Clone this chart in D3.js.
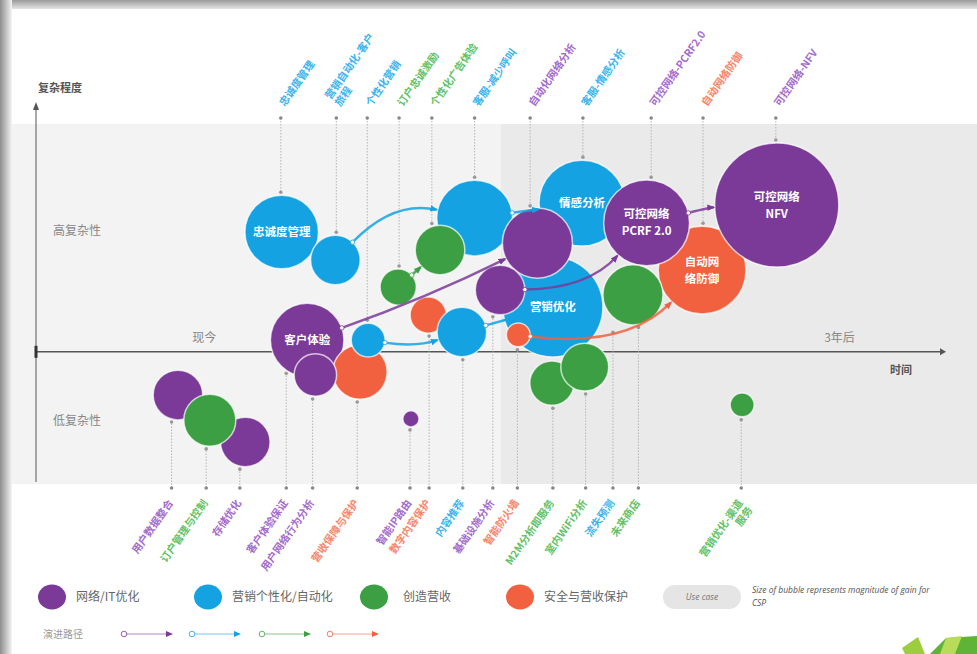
<!DOCTYPE html>
<html>
<head>
<meta charset="utf-8">
<script src="https://cdn.jsdelivr.net/npm/d3@7"></script>
<style>
body { margin: 0; background: #fff; font-family: "Noto Sans CJK SC", "Noto Sans", sans-serif; }
</style>
</head>
<body>
<svg id="chart" width="977" height="654"></svg>
<script>
// categories and their colours
const categories = ["网络/IT优化", "营销个性化/自动化", "创造营收", "安全与营收保护"];
const catColors = ["#7b3a98", "#14a2e3", "#3c9f43", "#f1613f"];
const labelColors = ["#a46ccb", "#3cb4ec", "#63c267", "#f7866a"];

// bubbles, in drawing order:
// [inner text, category, time, complexity, gain, use case label, label side, label time]
const bubbles = [
	["忠诚度管理", 1, 27.0, 3.68, 33, "忠诚度管理", "top", 26.9],
	["", 1, 32.9, 2.82, 15, "营销自动化-客户|旅程", "top", 33.0],
	["", 1, 48.2, 4.11, 35, "客服-减少呼叫", "top", 48.2],
	["情感分析", 1, 60.0, 4.57, 45, "客服-情感分析", "top", 60.1],
	["营销优化", 1, 56.8, 1.38, 61, "流失预测", "bottom", 63.4],
	["", 2, 44.4, 3.13, 15, "个性化广告体验", "top", 43.5],
	["", 2, 39.8, 1.99, 8, "订户忠诚激励", "top", 39.9],
	["", 0, 55.1, 3.34, 30, "自动化网络分析", "top", 54.3],
	["", 0, 51.0, 1.90, 15, "基础设施分析", "bottom", 50.2],
	["", 3, 43.1, 1.13, 8, "数字内容保护", "bottom", 43.2],
	["", 1, 46.8, 0.61, 15, "内容推荐", "bottom", 46.9],
	["客户体验", 0, 29.8, 0.36, 33, "客户体验保证", "bottom", 27.5],
	["", 3, 35.6, -0.62, 18, "营收保障与保护", "bottom", 35.3],
	["", 0, 30.7, -0.71, 11, "用户网络行为分析", "bottom", 30.4],
	["", 1, 36.5, 0.36, 7, "个性化营销", "top", 36.4],
	["", 3, 53.0, 0.52, 3.5, "智能防火墙", "bottom", 52.9],
	["", 2, 56.7, -0.96, 12, "M2M分析即服务", "bottom", 56.8],
	["", 2, 60.3, -0.47, 14, "室内WiFi分析", "bottom", 60.4],
	["自动网|络防御", 3, 73.2, 2.51, 47, "自动网络防御", "top", 73.3],
	["可控网络|PCRF 2.0", 0, 67.1, 3.96, 45, "可控网络-PCRF2.0", "top", 67.6],
	["可控网络|NFV", 0, 81.4, 4.51, 94, "可控网络-NFV", "top", 81.3],
	["", 2, 65.6, 1.75, 22, "未来商店", "bottom", 66.2],
	["", 2, 77.6, -1.63, 3.5, "营销优化-渠道|服务", "bottom", 77.5],
	["", 0, 15.6, -1.33, 15, "用户数据整合", "bottom", 14.9],
	["", 0, 23.0, -2.77, 15, "存储优化", "bottom", 22.4],
	["", 2, 19.1, -2.10, 16.5, "订户管理与控制", "bottom", 18.7],
	["", 0, 41.2, -2.06, 1.6, "智能IP路由", "bottom", 41.1]
];

// evolution paths: [from bubble, to bubble, category, bend]
const paths = [
	[1, 2, 1, -0.28],
	[2, 3, 1, 0],
	[6, 5, 2, 0],
	[14, 10, 1, 0.12],
	[10, 4, 1, 0],
	[11, 7, 0, 0.03],
	[8, 19, 0, 0.22],
	[19, 20, 0, -0.05],
	[15, 18, 3, 0.25]
];

const timeLabels = [["现今", 18.5], ["3年后", 88.3]];
const levelLabels = [["高复杂性", 3.74], ["低复杂性", -2.1]];

const svg = d3.select("#chart");
const x = d3.scaleLinear().domain([0, 100]).range([36, 946]);
const y = d3.scaleLinear().domain([-4, 7]).range([482, 124]);
const r = d3.scaleSqrt().domain([0, 100]).range([0, 64]);

const defs = svg.append("defs");
const gTop = defs.append("linearGradient").attr("id", "shTop").attr("x1", 0).attr("x2", 0).attr("y1", 0).attr("y2", 1);
gTop.append("stop").attr("offset", 0).attr("stop-color", "#9a9a9a");
gTop.append("stop").attr("offset", 1).attr("stop-color", "#e4e4e4");
const gLeft = defs.append("linearGradient").attr("id", "shLeft");
gLeft.append("stop").attr("offset", 0).attr("stop-color", "#8e8e8e");
gLeft.append("stop").attr("offset", 1).attr("stop-color", "#f4f4f4");

catColors.forEach((c, i) => {
	defs.append("marker")
		.attr("id", "arr" + i)
		.attr("viewBox", "0 -5 10 10")
		.attr("refX", 8).attr("refY", 0)
		.attr("markerWidth", 8).attr("markerHeight", 8)
		.attr("markerUnits", "userSpaceOnUse")
		.attr("orient", "auto")
		.append("path").attr("d", "M0,-4L10,0L0,4Z").attr("fill", c);
});

// page frame and background bands
svg.append("rect").attr("x", 12).attr("y", y(7)).attr("width", x(51.1) - 12).attr("height", y(-4) - y(7) + 2).attr("fill", "#f3f3f3");
svg.append("rect").attr("x", x(51.1)).attr("y", y(7)).attr("width", 977 - x(51.1)).attr("height", y(-4) - y(7) + 2).attr("fill", "#eaeaea");
svg.append("rect").attr("x", 0).attr("y", 0).attr("width", 977).attr("height", 9).attr("fill", "url(#shTop)");
svg.append("rect").attr("x", 0).attr("y", 0).attr("width", 12).attr("height", 654).attr("fill", "url(#shLeft)");

// axes
const axis = svg.append("g").attr("stroke", "#555");
axis.append("line").attr("x1", x(0)).attr("x2", x(0)).attr("y1", y(-4)).attr("y2", 108).attr("stroke-width", 1);
axis.append("path").attr("d", `M${x(0) - 3},110L${x(0)},102L${x(0) + 3},110Z`).attr("fill", "#555").attr("stroke", "none");
axis.append("line").attr("x1", x(0)).attr("x2", x(100) - 4).attr("y1", y(0)).attr("y2", y(0)).attr("stroke-width", 1.5);
axis.append("path").attr("d", `M${x(100) - 6},${y(0) - 3.5}L${x(100)},${y(0)}L${x(100) - 6},${y(0) + 3.5}Z`).attr("fill", "#555").attr("stroke", "none");
axis.append("line").attr("x1", x(0)).attr("x2", x(0)).attr("y1", y(0) - 6).attr("y2", y(0) + 6).attr("stroke-width", 3).attr("stroke", "#333");

svg.append("text").attr("x", 38).attr("y", 92).text("复杂程度")
	.attr("font-size", 11).attr("font-weight", "bold").attr("fill", "#555");
svg.append("text").attr("x", 890).attr("y", y(0) + 22).text("时间")
	.attr("font-size", 11).attr("font-weight", "bold").attr("fill", "#555");
svg.selectAll(".tl").data(timeLabels).join("text")
	.attr("x", d => x(d[1])).attr("y", y(0) - 10).attr("text-anchor", "middle")
	.attr("font-size", 12).attr("fill", "#888").text(d => d[0]);
svg.selectAll(".ll").data(levelLabels).join("text")
	.attr("x", 53).attr("y", d => y(d[1]) + 5)
	.attr("font-size", 12).attr("fill", "#888").text(d => d[0]);

// stems from each bubble to its use case label
const topY = 118, botY = 488;
function edgeY(d) {
	const cx = x(d[2]), cy = y(d[3]), rr = r(d[4]);
	const dx = x(d[7]) - cx;
	const dy = Math.sqrt(Math.max(rr * rr - dx * dx, (rr * 0.45) ** 2));
	return d[6] === "top" ? cy - dy - 3 : cy + dy + 3;
}
const stems = svg.append("g");
stems.selectAll("line").data(bubbles).join("line")
	.attr("x1", d => x(d[7])).attr("x2", d => x(d[7]))
	.attr("y1", d => d[6] === "top" ? topY : botY)
	.attr("y2", d => edgeY(d))
	.attr("stroke", "#b5b5b5").attr("stroke-width", 1).attr("stroke-dasharray", "1.5,1.5");
stems.selectAll(".d1").data(bubbles).join("circle")
	.attr("cx", d => x(d[7])).attr("cy", d => d[6] === "top" ? topY : botY)
	.attr("r", 1.8).attr("fill", "#888");
stems.selectAll(".d2").data(bubbles).join("circle")
	.attr("cx", d => x(d[7])).attr("cy", d => edgeY(d))
	.attr("r", 1.8).attr("fill", "#999");

// use case labels, rotated
const labels = svg.append("g").attr("font-size", 10.5).attr("font-weight", "bold");
bubbles.forEach(d => {
	const lines = d[5].split("|");
	const top = d[6] === "top";
	const g = labels.append("g")
		.attr("transform", top ? `translate(${x(d[7]) + 4},107) rotate(-55)` : `translate(${x(d[7]) + 2},503) rotate(-55)`);
	lines.forEach((t, i) => {
		g.append("text")
			.attr("text-anchor", top ? "start" : "end")
			.attr("dy", top ? ((i - (lines.length - 1)) * 1.15) + "em" : (i * 1.15) + "em")
			.attr("fill", labelColors[d[1]])
			.text(t);
	});
});

// bubbles
const nodes = svg.append("g");
nodes.selectAll("circle").data(bubbles).join("circle")
	.attr("cx", d => x(d[2])).attr("cy", d => y(d[3])).attr("r", d => r(d[4]))
	.attr("fill", d => catColors[d[1]])
	.attr("stroke", "#ffffff").attr("stroke-opacity", 0.7).attr("stroke-width", 1.5);

// evolution paths
const links = svg.append("g").attr("fill", "none");
paths.forEach(p => {
	const a = bubbles[p[0]], b = bubbles[p[1]];
	const ax = x(a[2]), ay = y(a[3]), bx = x(b[2]), by = y(b[3]);
	const dx = bx - ax, dy = by - ay, len = Math.hypot(dx, dy);
	const cx = (ax + bx) / 2 - dy / len * p[3] * len, cy = (ay + by) / 2 + dx / len * p[3] * len;
	const u1 = Math.hypot(cx - ax, cy - ay), u2 = Math.hypot(cx - bx, cy - by);
	const sx = ax + (cx - ax) / u1 * r(a[4]), sy = ay + (cy - ay) / u1 * r(a[4]);
	const ex = bx + (cx - bx) / u2 * (r(b[4]) + 1), ey = by + (cy - by) / u2 * (r(b[4]) + 1);
	links.append("path")
		.attr("d", `M${sx},${sy}Q${cx},${cy} ${ex},${ey}`)
		.attr("stroke", catColors[p[2]]).attr("stroke-opacity", 0.85).attr("stroke-width", 2.5)
		.attr("marker-end", `url(#arr${p[2]})`);
	links.append("circle").attr("cx", sx).attr("cy", sy).attr("r", 2.2)
		.attr("fill", "#fff").attr("stroke", catColors[p[2]]).attr("stroke-width", 0.8);
});

// text inside bubbles
const inner = svg.append("g").attr("fill", "#fff").attr("font-size", 11.5).attr("font-weight", "bold").attr("text-anchor", "middle");
bubbles.filter(d => d[0]).forEach(d => {
	const lines = d[0].split("|");
	lines.forEach((t, i) => {
		inner.append("text")
			.attr("x", x(d[2]))
			.attr("y", y(d[3]) + 4 + (i - (lines.length - 1) / 2) * 17)
			.text(t);
	});
});

// legend
const legX = [52, 208, 374, 520];
const leg = svg.append("g");
categories.forEach((c, i) => {
	leg.append("ellipse").attr("cx", legX[i]).attr("cy", 597).attr("rx", 14).attr("ry", 12.5).attr("fill", catColors[i]);
	leg.append("text").attr("x", legX[i] + 24 + (i === 2 ? 5 : 0)).attr("y", 601)
		.attr("font-size", 12).attr("fill", "#666").text(c);
});
leg.append("rect").attr("x", 663).attr("y", 585).attr("width", 78).attr("height", 24).attr("rx", 12).attr("fill", "#e5e5e5");
leg.append("text").attr("x", 702).attr("y", 600).attr("text-anchor", "middle").attr("font-size", 8.5)
	.attr("font-style", "italic").attr("fill", "#777").attr("font-family", "Open Sans").text("Use case");
leg.append("text").attr("x", 752).attr("y", 593).attr("font-size", 8.5).attr("font-style", "italic")
	.attr("fill", "#555").attr("font-family", "Open Sans").text("Size of bubble represents magnitude of gain for");
leg.append("text").attr("x", 752).attr("y", 606).attr("font-size", 8.5).attr("font-style", "italic")
	.attr("fill", "#555").attr("font-family", "Open Sans").text("CSP");
leg.append("text").attr("x", 43).attr("y", 638).attr("font-size", 10).attr("fill", "#999").text("演进路径");
const sampleX = [124, 192, 262, 330];
catColors.forEach((c, i) => {
	leg.append("line").attr("x1", sampleX[i] + 3).attr("x2", sampleX[i] + 46).attr("y1", 634).attr("y2", 634)
		.attr("stroke", c).attr("stroke-opacity", 0.6).attr("stroke-width", 1);
	leg.append("circle").attr("cx", sampleX[i]).attr("cy", 634).attr("r", 2.8)
		.attr("fill", "#fff").attr("stroke", c).attr("stroke-width", 0.8);
	leg.append("path").attr("d", `M${sampleX[i] + 42},631L${sampleX[i] + 49},634L${sampleX[i] + 42},637Z`).attr("fill", c);
});

// corner decoration
svg.append("path").attr("d", "M902,648L918,637L925,654L905,654Z").attr("fill", "#9ccd3c");
svg.append("path").attr("d", "M930,654L946,638L977,636L977,654Z").attr("fill", "#5fb336");
svg.append("path").attr("d", "M946,638L962,636L955,654L940,654Z").attr("fill", "#b8dc5a");
</script>
</body>
</html>
